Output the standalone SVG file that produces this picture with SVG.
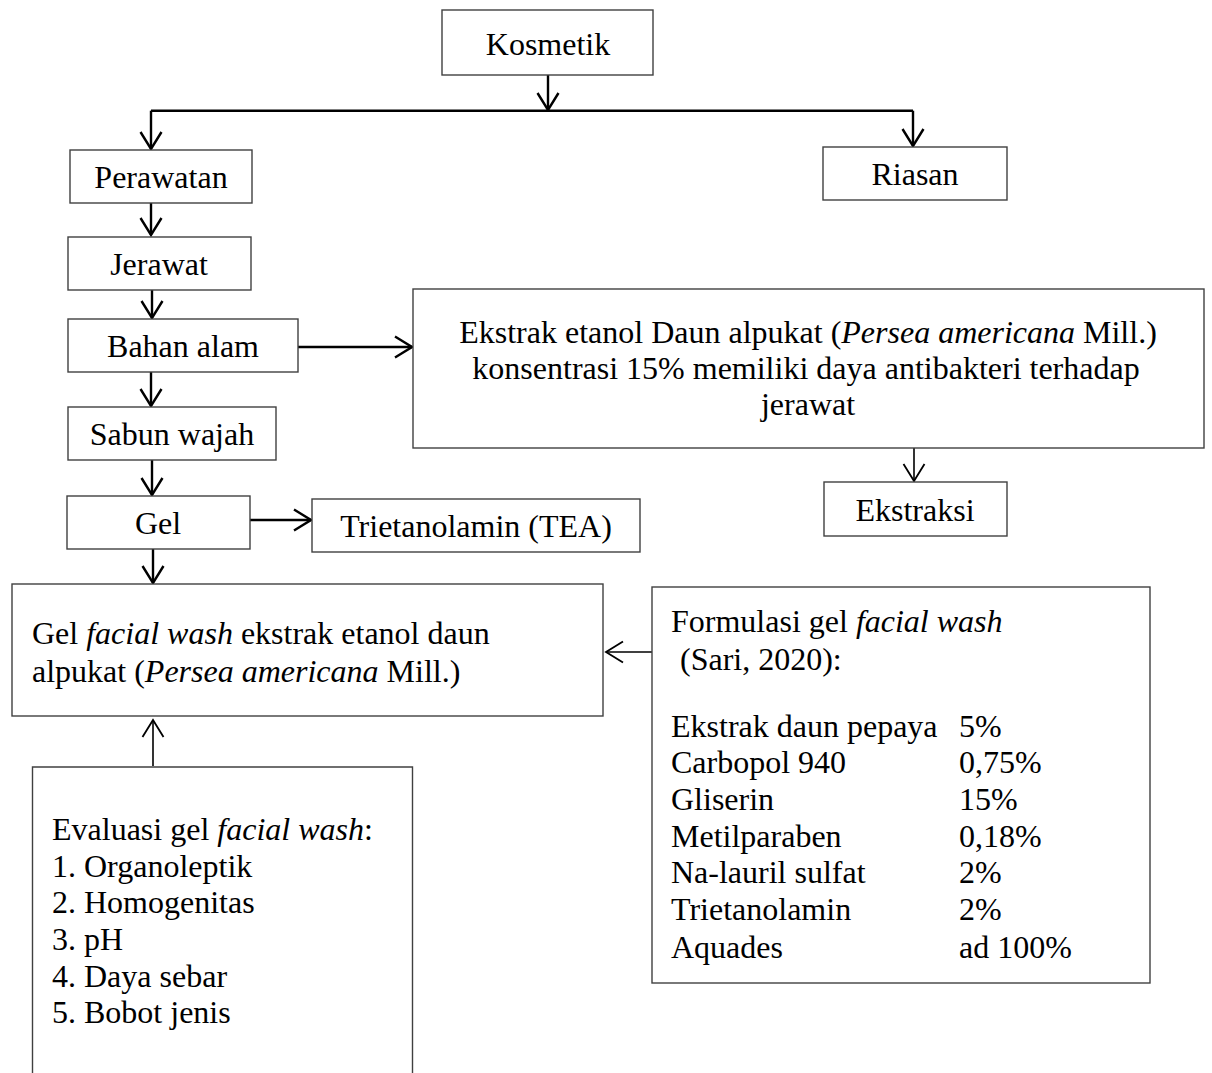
<svg xmlns="http://www.w3.org/2000/svg" width="1212" height="1073" viewBox="0 0 1212 1073">
<style>
.box{fill:#fff;stroke:#404040;stroke-width:1.4}
.t{font-family:"Liberation Serif","Times New Roman",serif;font-size:32px;fill:#000}
.c{text-anchor:middle}
.i{font-style:italic}
.thick{fill:none;stroke:#000;stroke-width:2.4;marker-end:url(#ah)}
.thin{fill:none;stroke:#000;stroke-width:1.6;marker-end:url(#ah2)}
.line{fill:none;stroke:#000;stroke-width:2.4}
</style>
<defs>
<marker id="ah" markerUnits="userSpaceOnUse" viewBox="-20 -12 22 24" refX="0" refY="0" markerWidth="22" markerHeight="24" orient="auto">
<path d="M-17 -10.5 L0 0 L-17 10.5" fill="none" stroke="#000" stroke-width="2.4"/>
</marker>
<marker id="ah2" markerUnits="userSpaceOnUse" viewBox="-20 -12 22 24" refX="0" refY="0" markerWidth="22" markerHeight="24" orient="auto">
<path d="M-17 -10.5 L0 0 L-17 10.5" fill="none" stroke="#000" stroke-width="1.8"/>
</marker>
</defs>
<g id="connectors">
<path class="thick" d="M548 75 V110"/>
<path class="line" d="M151 110.7 H913"/>
<path class="thick" d="M151 110.7 V149"/>
<path class="thick" d="M913 110.7 V146"/>
<path class="thick" d="M151 203 V235"/>
<path class="thick" d="M152 290 V318"/>
<path class="thick" d="M298 347 H412"/>
<path class="thick" d="M151 372 V406"/>
<path class="thick" d="M152 460 V495"/>
<path class="thick" d="M250 520 H311"/>
<path class="thick" d="M153 549 V583"/>
<path class="thin" d="M914 448 V481"/>
<path class="thin" d="M652 652 H606"/>
<path class="thin" d="M153 766 V720"/>
</g>
<g id="kosmetik"><rect class="box" x="442" y="10" width="211" height="65"/><text class="t c" x="548" y="55">Kosmetik</text></g>
<g id="perawatan"><rect class="box" x="70" y="150" width="182" height="53"/><text class="t c" x="161" y="188">Perawatan</text></g>
<g id="riasan"><rect class="box" x="823" y="147" width="184" height="53"/><text class="t c" x="915" y="185">Riasan</text></g>
<g id="jerawat"><rect class="box" x="68" y="237" width="183" height="53"/><text class="t c" x="159" y="275">Jerawat</text></g>
<g id="bahan-alam"><rect class="box" x="68" y="319" width="230" height="53"/><text class="t c" x="183" y="357">Bahan alam</text></g>
<g id="ekstrak"><rect class="box" x="413" y="289" width="791" height="159"/>
<text class="t c" x="808" y="343">Ekstrak etanol Daun alpukat (<tspan class="i">Persea americana</tspan> Mill.)</text>
<text class="t c" x="806" y="379">konsentrasi 15% memiliki daya antibakteri terhadap</text>
<text class="t c" x="808" y="415">jerawat</text></g>
<g id="sabun-wajah"><rect class="box" x="68" y="407" width="208" height="53"/><text class="t c" x="172" y="445">Sabun wajah</text></g>
<g id="gel"><rect class="box" x="67" y="496" width="183" height="53"/><text class="t c" x="158" y="534">Gel</text></g>
<g id="tea"><rect class="box" x="312" y="499" width="328" height="53"/><text class="t c" x="476" y="537">Trietanolamin (TEA)</text></g>
<g id="ekstraksi"><rect class="box" x="824" y="482" width="183" height="54"/><text class="t c" x="915" y="521">Ekstraksi</text></g>
<g id="gel-facial-wash"><rect class="box" x="12" y="584" width="591" height="132"/>
<text class="t" x="32" y="644">Gel <tspan class="i">facial wash</tspan> ekstrak etanol daun</text>
<text class="t" x="32" y="682">alpukat (<tspan class="i">Persea americana</tspan> Mill.)</text></g>
<g id="formulasi"><rect class="box" x="652" y="587" width="498" height="396"/>
<text class="t" x="671" y="632">Formulasi gel <tspan class="i">facial wash</tspan></text>
<text class="t" x="680" y="670">(Sari, 2020):</text>
<text class="t" x="671" y="737">Ekstrak daun pepaya</text><text class="t" x="959" y="737">5%</text>
<text class="t" x="671" y="773">Carbopol 940</text><text class="t" x="959" y="773">0,75%</text>
<text class="t" x="671" y="810">Gliserin</text><text class="t" x="959" y="810">15%</text>
<text class="t" x="671" y="847">Metilparaben</text><text class="t" x="959" y="847">0,18%</text>
<text class="t" x="671" y="883">Na-lauril sulfat</text><text class="t" x="959" y="883">2%</text>
<text class="t" x="671" y="920">Trietanolamin</text><text class="t" x="959" y="920">2%</text>
<text class="t" x="671" y="958">Aquades</text><text class="t" x="959" y="958">ad 100%</text></g>
<g id="evaluasi"><path class="box" d="M32.5 1080 V767 H412.5 V1080"/>
<text class="t" x="52" y="840">Evaluasi gel <tspan class="i">facial wash</tspan>:</text>
<text class="t" x="52" y="877">1. Organoleptik</text>
<text class="t" x="52" y="913">2. Homogenitas</text>
<text class="t" x="52" y="950">3. pH</text>
<text class="t" x="52" y="987">4. Daya sebar</text>
<text class="t" x="52" y="1023">5. Bobot jenis</text></g>
</svg>
